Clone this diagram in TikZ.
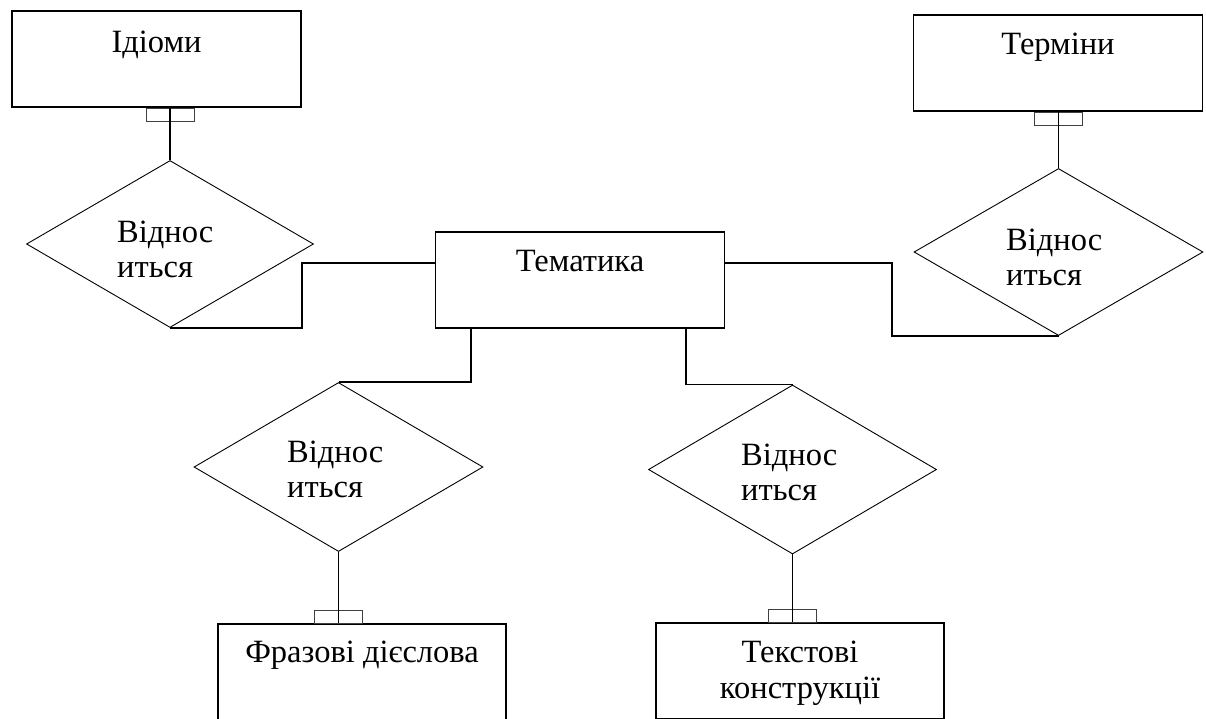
\documentclass[tikz,border=0pt]{standalone}
\usepackage{fontspec}
\setmainfont{Liberation Serif}
\usetikzlibrary{shapes.geometric,calc}

\begin{document}
\begin{tikzpicture}[x=1pt,y=-1pt,
  entity/.style={draw=black,line width=1.1pt,rectangle,minimum width=289pt,minimum height=96pt,inner sep=0pt},
  relation/.style={draw=black,line width=0.9pt,diamond,minimum width=288pt,minimum height=168pt,inner sep=0pt},
  link/.style={draw=black,line width=1.7pt},
  tab/.style={draw=black!75,line width=0.8pt,rectangle,minimum width=48pt,minimum height=13pt,inner sep=0pt},
  title/.style={font=\fontsize{32.5}{36}\selectfont,anchor=base,inner sep=0pt,align=center},
  rtext/.style={font=\fontsize{32.5}{35}\selectfont,anchor=base west,inner sep=0pt,align=left}]
  \useasboundingbox (0,0) rectangle (1206,718);

  % entities
  \node[entity] (idioms) at (156.5,59) {};
  \node[entity] (terms)  at (1058,63) {};
  \node[entity] (theme)  at (580,280) {};
  \node[entity,minimum width=288pt] (phrasal) at (362,672) {};
  \node[entity,minimum width=288pt] (textc)   at (800,671) {};

  % entity names (base anchor sits on the last line)
  \node[title] (idiomsT)  at ($(idioms.north)+(0,42)$) {Ідіоми};
  \node[title] (termsT)   at ($(terms.north)+(0,40)$) {Терміни};
  \node[title] (themeT)   at ($(theme.north)+(0,40)$) {Тематика};
  \node[title] (phrasalT) at ($(phrasal.north)+(0,39)$) {Фразові дієслова};
  \node[title] (textcT)   at ($(textc.north)+(0,76)$) {Текстові\\конструкції};

  % relationships
  \node[relation,minimum width=287pt,minimum height=167pt] (d1) at (170,244) {};
  \node[relation,minimum width=289pt,minimum height=167pt] (d2) at (1058.5,252) {};
  \node[relation,minimum width=289pt,minimum height=169pt] (d3) at (338.5,467) {};
  \node[relation,minimum width=288pt,minimum height=169pt] (d4) at (792.5,469.5) {};

  \node[rtext] (d1T) at (117,277) {Віднос\\иться};
  \node[rtext] (d2T) at (1006,285) {Віднос\\иться};
  \node[rtext] (d3T) at (287,497) {Віднос\\иться};
  \node[rtext] (d4T) at (741,500) {Віднос\\иться};

  % cardinality tabs at the entity side
  \node[tab,anchor=north] (tab1) at (idioms.south -| d1.north) {};
  \node[tab,anchor=north] (tab2) at (terms.south -| d2.north) {};
  \node[tab,anchor=south] (tab3) at (phrasal.north -| d3.south) {};
  \node[tab,anchor=south] (tab4) at (textc.north -| d4.south) {};

  % connectors
  \coordinate (j1) at (302,263);
  \coordinate (j2) at (892,263);
  \coordinate (j3) at (471,382);
  \coordinate (j4) at (686,384);

  \draw[link] (idioms.south -| d1.north) -- (d1.north);
  \draw[link] (terms.south -| d2.north) -- (d2.north);
  \draw[link] (d3.south) -- (phrasal.north -| d3.south);
  \draw[link] (d4.south) -- (textc.north -| d4.south);

  \draw[link] (d1.south) -| (j1) -- (j1 -| theme.west);
  \draw[link] (j2 -| theme.east) -- (j2) |- (d2.south);
  \draw[link] (j3 |- theme.south) -- (j3 |- d3.north) -- (d3.north);
  \draw[link] (j4 |- theme.south) -- (j4 |- d4.north) -- (d4.north);
\end{tikzpicture}
\end{document}
